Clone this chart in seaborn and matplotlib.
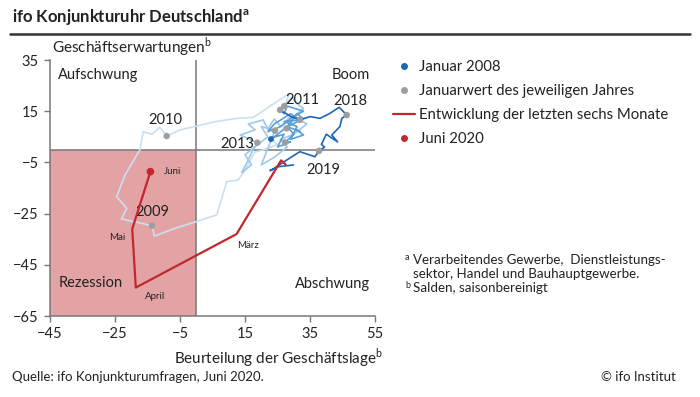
import pandas as pd
import matplotlib.pyplot as plt
import seaborn as sns
from matplotlib.lines import Line2D
from matplotlib.patches import Rectangle

# --- Daten ---
# Verlauf 2008-2019: Beurteilung der Geschäftslage (x) und Geschäftserwartungen (y)
jahr = ([2008] * 12 + [2009] * 9 + [2010] * 8 + [2011] * 11 + [2012] * 9
        + [2013] * 10 + [2014] * 9 + [2015] * 9 + [2016] * 9 + [2017] * 8
        + [2018] * 9 + [2019] * 8)
lage = [23.0, 25.0, 21.0, 18.0, 16.5, 15.0, 12.9, 9.4, 6.3, -0.9, -6.0, -12.9,
        -13.6, -23.0, -21.4, -24.5, -21.9, -17.3, -16.3, -13.7, -11.2,
        -9.1, -5.0, 0.1, 5.8, 12.4, 17.6, 23.2, 28.8,
        27.1, 29.5, 31.0, 33.0, 30.0, 34.0, 30.0, 26.0, 28.0, 24.0, 20.0,
        24.2, 20.0, 22.0, 18.0, 15.0, 17.0, 14.0, 16.0, 17.5,
        18.8, 13.5, 18.1, 16.0, 20.6, 22.0, 24.0, 26.0, 29.0, 28.0,
        27.8, 31.0, 33.0, 28.0, 24.0, 22.7, 27.0, 25.0, 29.0,
        27.3, 30.0, 28.0, 32.0, 30.9, 33.0, 29.0, 31.0, 27.0,
        31.9, 29.0, 24.0, 22.0, 26.0, 30.0, 33.0, 28.0, 27.0,
        25.8, 29.0, 31.9, 35.0, 38.1, 41.2, 42.7, 44.0,
        46.3, 44.8, 44.2, 42.7, 41.7, 43.5, 40.0, 38.5, 39.5,
        37.8, 36.5, 31.9, 27.8, 23.2, 22.7, 25.2, 29.9]
erwartung = [4.1, 2.0, 0.0, -1.0, -4.7, -8.0, -11.9, -12.5, -25.5, -28.5, -30.5, -33.8,
             -29.7, -27.1, -22.9, -18.4, -9.9, 0.0, 7.0, 6.0, 8.7,
             5.3, 7.7, 9.2, 10.9, 12.2, 12.6, 17.4, 22.0,
             17.0, 20.5, 18.0, 16.0, 13.0, 10.0, 6.0, 4.0, 1.0, -3.0, -6.0,
             7.4, 9.0, 5.0, 1.0, -2.0, -6.0, -9.0, -4.0, 0.0,
             2.7, 5.7, 7.7, 10.0, 11.6, 8.0, 12.0, 9.0, 13.0, 8.0,
             8.3, 14.0, 12.0, 9.0, 5.0, 4.4, 6.0, 1.0, 3.0,
             2.8, 6.0, 9.0, 7.0, 7.7, 5.7, 4.0, 9.0, 11.0,
             11.6, 14.0, 10.0, 7.0, 9.0, 13.0, 15.0, 17.0, 14.0,
             15.5, 13.0, 11.6, 12.9, 12.2, 14.2, 15.5, 16.5,
             13.5, 12.2, 9.0, 7.0, 5.7, 3.0, 6.0, 2.0, 1.0,
             -0.5, -2.8, -0.8, -4.1, -8.0, -8.2, -6.7, -6.0]

# letzte sechs Monate (Januar bis Juni 2020)
monate_2020 = ['Januar', 'Februar', 'März', 'April', 'Mai', 'Juni']
lage_2020 = [27.5, 26.1, 12.4, -18.6, -19.7, -14.1]
erwartung_2020 = [-5.8, -4.2, -33.0, -53.9, -31.0, -8.6]

# Jahresbeschriftungen an den Januarwerten
jahr_labels = [2009, 2010, 2011, 2013, 2018, 2019]

# Farbgruppen nach Jahren (hell -> dunkel)
gruppen = {2008: 'g1', 2009: 'g1', 2010: 'g1', 2011: 'g2', 2012: 'g2', 2013: 'g2',
           2014: 'g3', 2015: 'g3', 2016: 'g3', 2017: 'g4', 2018: 'g4', 2019: 'g4'}
farben = {'g1': '#c9e0f2', 'g2': '#9fc9ea', 'g3': '#5a9fd8', 'g4': '#1d67b2'}

ROT = '#c1272d'
GRAU = '#9e9e9e'
TEXT = '#222222'

df = pd.DataFrame({'Jahr': jahr, 'Lage': lage, 'Erwartung': erwartung})
df['Gruppe'] = df['Jahr'].map(gruppen)

# Segmente je Gruppe bilden, jeweils mit dem ersten Punkt der nächsten Gruppe verbunden
teile = []
namen = list(farben.keys())
for i, g in enumerate(namen):
    teil = df[df['Gruppe'] == g].copy()
    if i + 1 < len(namen):
        nxt = df[df['Gruppe'] == namen[i + 1]].iloc[[0]].copy()
        nxt['Gruppe'] = g
        teil = pd.concat([teil, nxt])
    teile.append(teil)
df_linie = pd.concat(teile, ignore_index=True)

januar = df.groupby('Jahr').first().reset_index()

# --- Grafik ---
sns.set_theme(style='white')
plt.rcParams['font.family'] = ['Lato', 'DejaVu Sans']
plt.rcParams['text.color'] = TEXT
plt.rcParams['mathtext.fontset'] = 'custom'
plt.rcParams['mathtext.rm'] = 'Lato'
plt.rcParams['mathtext.bf'] = 'Lato:bold'

fig = plt.figure(figsize=(7, 3.97), dpi=100)
ax = fig.add_axes([50 / 700, 81 / 397, 325 / 700, 256 / 397])

ax.add_patch(Rectangle((-45, -65), 45, 65, color='#e3a3a4', zorder=0, lw=0))
ax.axvline(0, color='#777777', lw=1.1, zorder=1)
ax.axhline(0, color='#777777', lw=1.1, zorder=1)

sns.lineplot(data=df_linie, x='Lage', y='Erwartung', hue='Gruppe', palette=farben,
             sort=False, estimator=None, lw=1.2, legend=False, ax=ax, zorder=2)

# Januarwerte (grau), Januar 2008 (blau)
sns.scatterplot(x=januar['Lage'][1:], y=januar['Erwartung'][1:], color=GRAU,
                s=22, edgecolor='none', ax=ax, zorder=4)
sns.scatterplot(x=[lage[0]], y=[erwartung[0]], color='#1d67b2', s=18,
                edgecolor='none', ax=ax, zorder=4)

# Entwicklung 2020
sns.lineplot(x=lage_2020, y=erwartung_2020, sort=False, color=ROT, lw=1.6, ax=ax, zorder=5)
sns.scatterplot(x=[lage_2020[-1]], y=[erwartung_2020[-1]], color=ROT, s=30,
                edgecolor='none', ax=ax, zorder=6)

ax.set_xlim(-45, 55)
ax.set_ylim(-65, 35)
ax.set_xticks(range(-45, 56, 20))
ax.set_yticks(range(-65, 36, 20))
ax.tick_params(axis='both', labelsize=10.5, colors=TEXT, length=4, width=1,
               direction='out', left=True, bottom=True, color='#777777')
ax.tick_params(axis='x', pad=4)
ax.tick_params(axis='y', pad=4)
for s in ['top', 'right']:
    ax.spines[s].set_visible(False)
for s in ['left', 'bottom']:
    ax.spines[s].set_color('#777777')
    ax.spines[s].set_linewidth(1.1)
ax.set_xlabel('')
ax.set_ylabel('')

# Quadranten
ax.text(-42.5, 29, 'Aufschwung', fontsize=10.5, va='center')
ax.text(53.5, 29, 'Boom', fontsize=10.5, va='center', ha='right')
ax.text(-42.5, -52, 'Rezession', fontsize=10.5, va='center')
ax.text(53.5, -52.5, 'Abschwung', fontsize=10.5, va='center', ha='right')

# Jahreszahlen
pos_label = {2009: (-13.5, -24.5), 2010: (-9.5, 11.5), 2011: (32.5, 19.5),
             2013: (12.5, 2.0), 2018: (47.5, 19.0), 2019: (39.0, -8.0)}
for j in jahr_labels:
    ax.text(pos_label[j][0], pos_label[j][1], str(j), fontsize=10.5, ha='center', va='center')

# Monatsnamen
ax.text(lage_2020[5] + 4, erwartung_2020[5], 'Juni', fontsize=7, va='center')
ax.text(lage_2020[4] - 4.5, erwartung_2020[4] - 3.5, 'Mai', fontsize=7, va='center', ha='center')
ax.text(lage_2020[3] + 6, erwartung_2020[3] - 3.5, 'April', fontsize=7, va='center', ha='center')
ax.text(lage_2020[2] + 3.5, erwartung_2020[2] - 4.5, 'März', fontsize=7, va='center', ha='center')

# Titel und Achsentitel
fig.text(12 / 700, 1 - 18 / 397, r'ifo Konjunkturuhr Deutschland$^{\mathbf{a}}$',
         fontsize=12, fontweight='bold', va='center')
fig.add_artist(Line2D([10 / 700, 690 / 700], [1 - 34 / 397, 1 - 34 / 397],
                      color='#333333', lw=1.8))
fig.text(52 / 700, 1 - 47 / 397, r'Geschäftserwartungen$^{\mathrm{b}}$', fontsize=11,
         va='center')
fig.text(383 / 700, 1 - 358 / 397, r'Beurteilung der Geschäftslage$^{\mathrm{b}}$',
         fontsize=11, va='center', ha='right')
fig.text(12 / 700, 1 - 377 / 397, 'Quelle: ifo Konjunkturumfragen, Juni 2020.',
         fontsize=9.5, va='center')
fig.text(676 / 700, 1 - 377 / 397, '© ifo Institut', fontsize=9.5, va='center', ha='right')

# Legende
handles = [
    Line2D([], [], marker='o', ls='none', color='#1d67b2', markersize=4),
    Line2D([], [], marker='o', ls='none', color=GRAU, markersize=4),
    Line2D([], [], color=ROT, lw=1.6),
    Line2D([], [], marker='o', ls='none', color=ROT, markersize=4),
]
labels = ['Januar 2008', 'Januarwert des jeweiligen Jahres',
          'Entwicklung der letzten sechs Monate', 'Juni 2020']
fig.legend(handles, labels, loc='upper left', bbox_to_anchor=(393 / 700, 1 - 60 / 397),
           frameon=False, fontsize=10.7, handlelength=1.5, handletextpad=0.28,
           labelspacing=0.68, borderaxespad=0, borderpad=0)

# Fußnoten
fig.text(405 / 700, 1 - 257 / 397, 'a', fontsize=6.5, va='center')
fig.text(413 / 700, 1 - 260 / 397, 'Verarbeitendes Gewerbe,  Dienstleistungs-',
         fontsize=9.6, va='center')
fig.text(413 / 700, 1 - 274 / 397, 'sektor, Handel und Bauhauptgewerbe.',
         fontsize=9.6, va='center')
fig.text(405 / 700, 1 - 285 / 397, 'b', fontsize=6.5, va='center')
fig.text(413 / 700, 1 - 288 / 397, 'Salden, saisonbereinigt', fontsize=9.6, va='center')

plt.savefig('out.png', dpi=100)
